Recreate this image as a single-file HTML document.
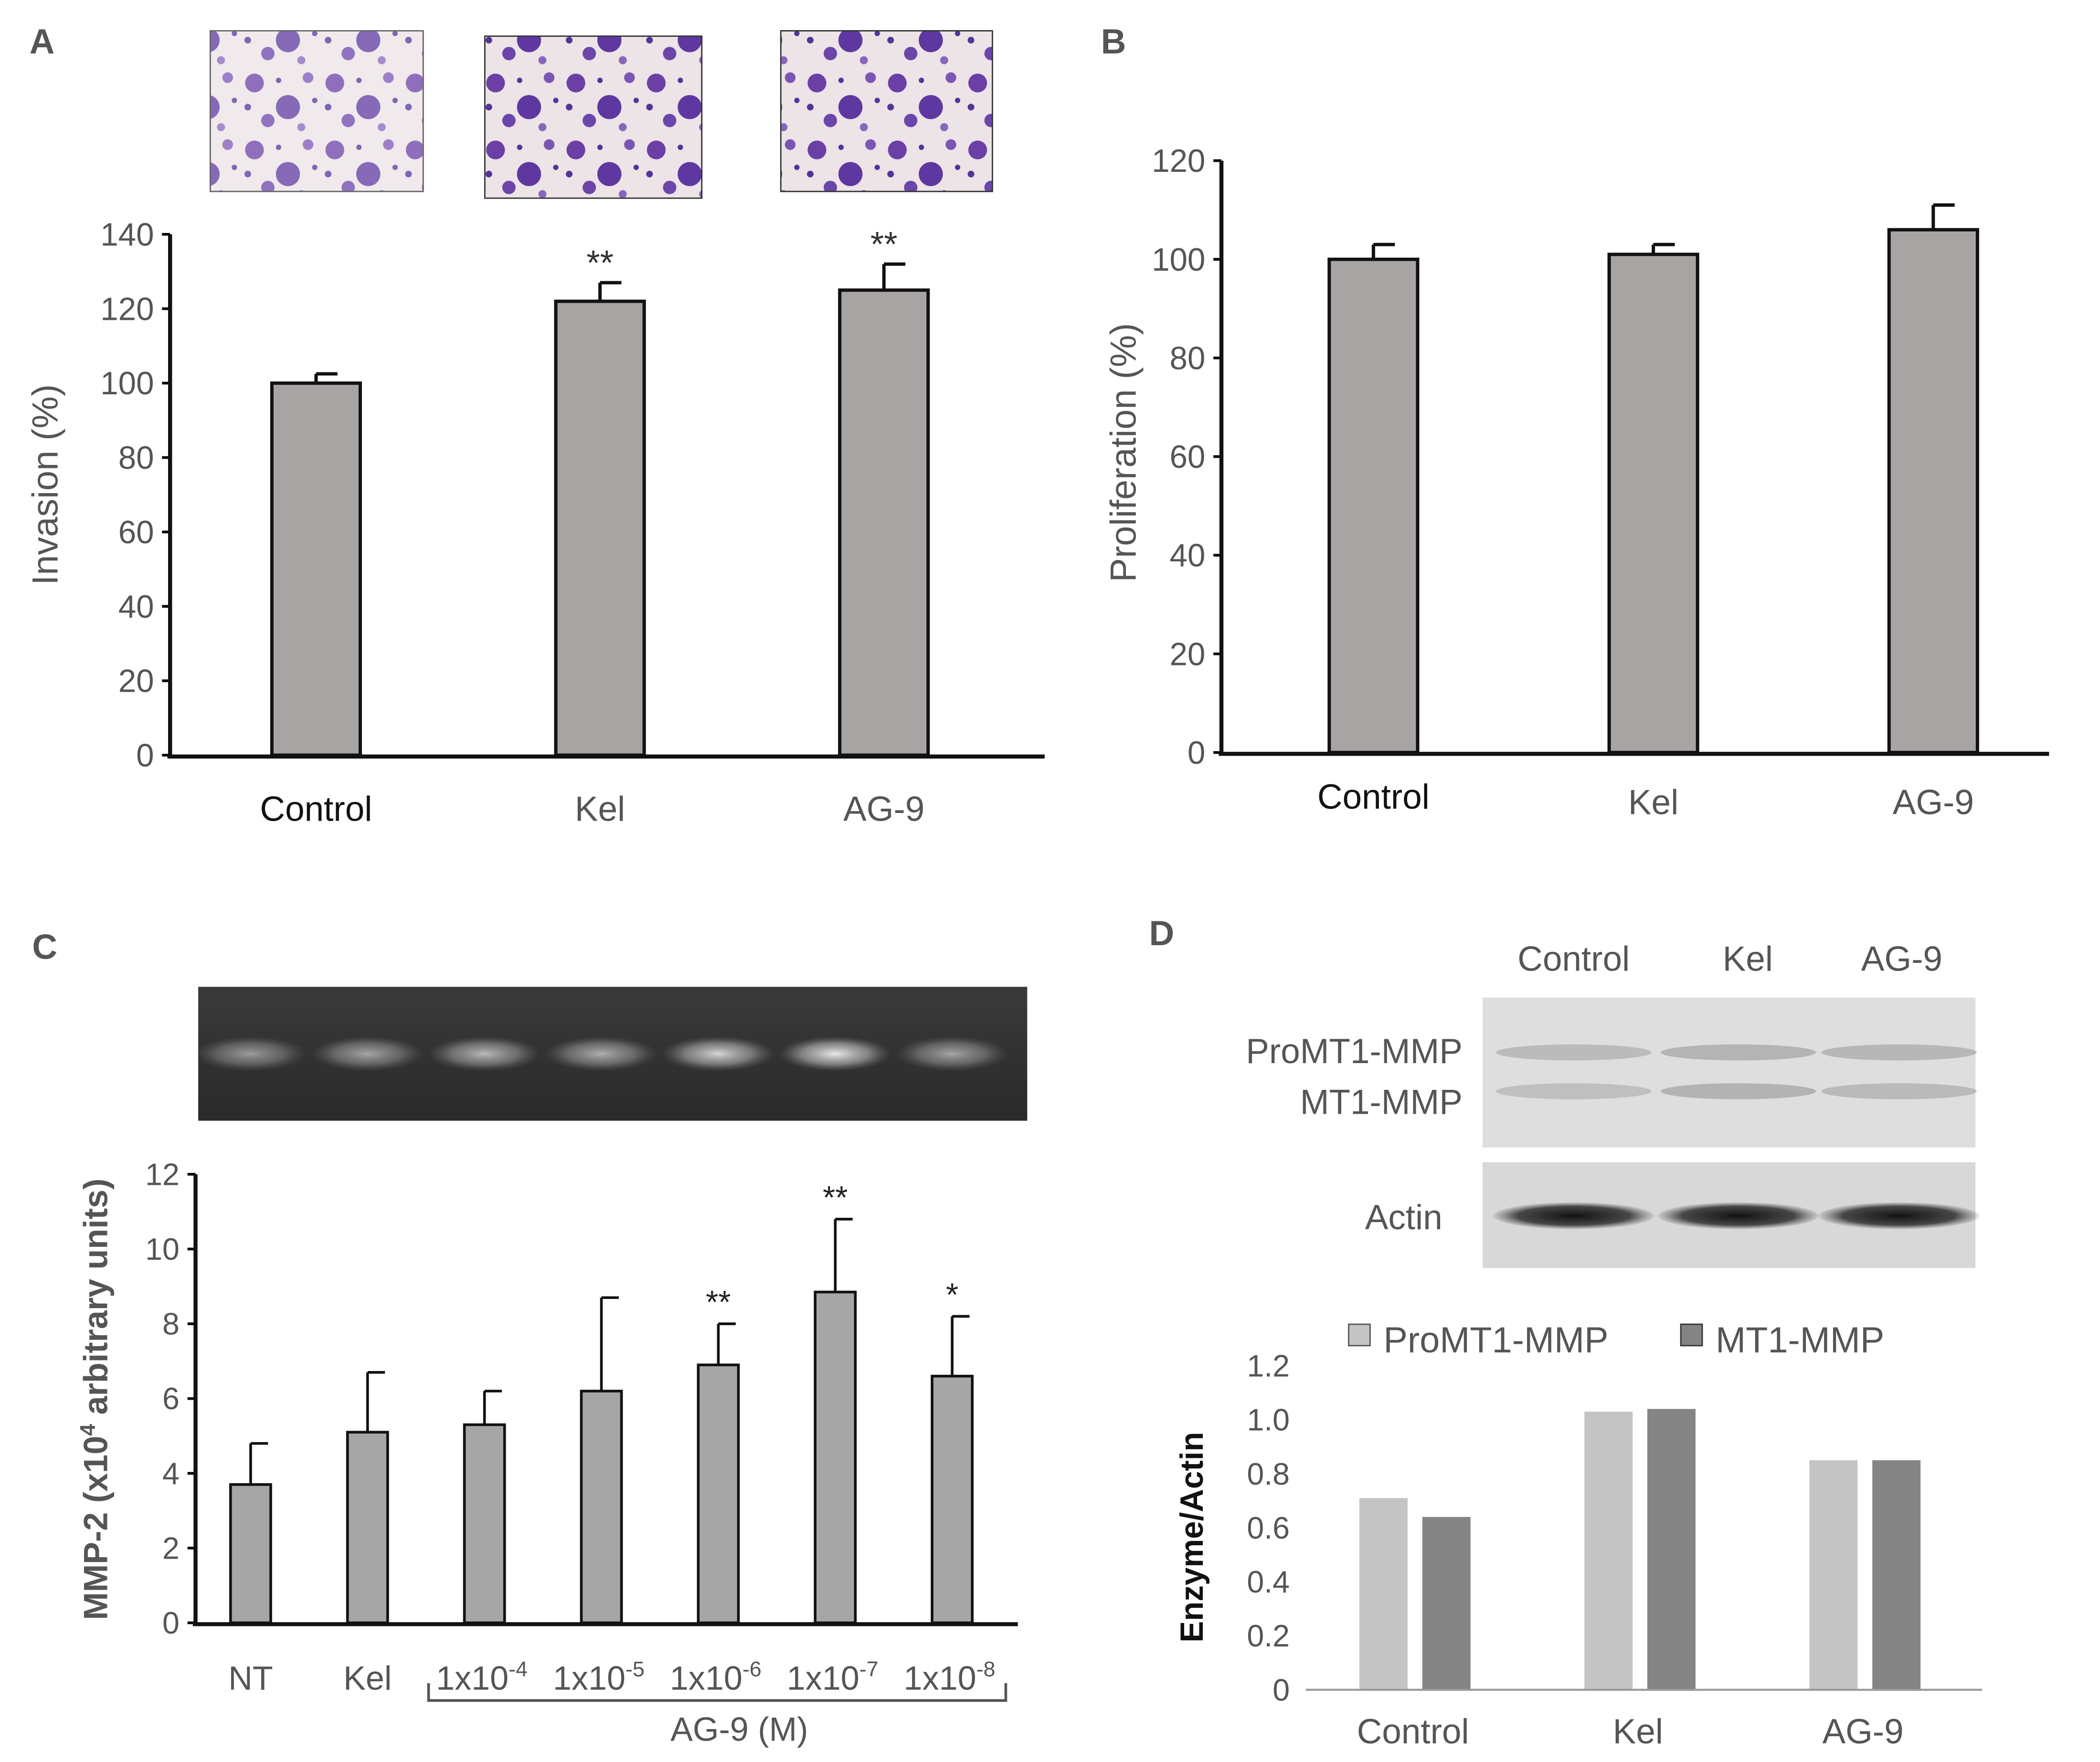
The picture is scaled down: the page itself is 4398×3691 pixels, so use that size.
<!DOCTYPE html>
<html><head><meta charset="utf-8"><style>
html,body{margin:0;padding:0;background:#fff}
svg{display:block}
text{font-family:"Liberation Sans",sans-serif}
</style></head><body>
<svg id="fig" width="4398" height="3691" viewBox="0 0 1568 1315" preserveAspectRatio="xMinYMin meet" xmlns="http://www.w3.org/2000/svg">
<defs>
<pattern id="cells" width="60" height="50" patternUnits="userSpaceOnUse">
<rect width="60" height="50" fill="#ece4e6"/>
<circle cx="10" cy="12" r="7" fill="#6a3fa6"/><circle cx="35" cy="30" r="9" fill="#5e37a0"/>
<circle cx="50" cy="8" r="4" fill="#7b55b4"/><circle cx="20" cy="40" r="5" fill="#6b45aa"/>
<circle cx="45" cy="45" r="3" fill="#8866bb"/><circle cx="28" cy="10" r="2" fill="#553399"/>
<circle cx="5" cy="30" r="2.5" fill="#553399"/><circle cx="55" cy="25" r="2" fill="#553399"/>
</pattern>
<linearGradient id="gel" x1="0" y1="0" x2="0" y2="1"><stop offset="0" stop-color="#3a3a3a"/><stop offset="1" stop-color="#2a2a2a"/></linearGradient>
<radialGradient id="band"><stop offset="0" stop-color="#f4f4f4"/><stop offset="0.6" stop-color="#aaa" stop-opacity="0.7"/><stop offset="1" stop-color="#777" stop-opacity="0"/></radialGradient>
<radialGradient id="wb"><stop offset="0" stop-color="#111"/><stop offset="0.7" stop-color="#222" stop-opacity="0.8"/><stop offset="1" stop-color="#444" stop-opacity="0.1"/></radialGradient>
</defs>
<g id="letters" fill="#555" font-weight="bold" font-size="26">
<text x="22" y="40">A</text>
<text x="822" y="40">B</text>
<text x="24" y="716">C</text>
<text x="858" y="706">D</text>
</g>
<g>
<rect x="157" y="23" width="159" height="120" fill="url(#cells)" opacity="0.75" stroke="#333"/>
<rect x="362" y="27" width="162" height="121" fill="url(#cells)" stroke="#333"/>
<rect x="583" y="23" width="158" height="120" fill="url(#cells)" stroke="#333"/>
</g>
<g>
<rect x="148" y="737" width="619" height="100" fill="url(#gel)"/>
</g>
<g id="gelbands"></g>
<g>
<rect x="1107" y="745" width="368" height="112" fill="#dedede"/>
<rect x="1107" y="868" width="368" height="79" fill="#d8d8d8"/>
</g>
<g id="wbbands"></g>
<g fill="#555" font-size="26">
<text x="1175" y="725" text-anchor="middle">Control</text>
<text x="1305" y="725" text-anchor="middle">Kel</text>
<text x="1420" y="725" text-anchor="middle">AG-9</text>
<text x="1092" y="794" text-anchor="end">ProMT1-MMP</text>
<text x="1092" y="832" text-anchor="end">MT1-MMP</text>
<text x="1077" y="918" text-anchor="end">Actin</text>
</g>
<g id="charts"></g>
</svg>
<script>
const NS="http://www.w3.org/2000/svg";
const root=document.getElementById('charts');
function el(tag,attrs,parent,txt){const e=document.createElementNS(NS,tag);for(const k in attrs)e.setAttribute(k,attrs[k]);if(txt!==undefined)e.textContent=txt;(parent||root).appendChild(e);return e;}

// Panel A data
const aCats=["Control","Kel","AG-9"];
const aVals=[100,122,125];
const aErr=[2.5,5,7];
const aStars=["","**","**"];
const aTicks=[0,20,40,60,80,100,120,140];
// Panel B data
const bCats=["Control","Kel","AG-9"];
const bVals=[100,101,106];
const bErr=[3,2,5];
const bTicks=[0,20,40,60,80,100,120];
// Panel C data
const cCats=["NT","Kel","1x10-4","1x10-5","1x10-6","1x10-7","1x10-8"];
const cVals=[3.7,5.1,5.3,6.2,6.9,8.85,6.6];
const cErr=[1.1,1.6,0.9,2.5,1.1,1.95,1.6];
const cStars=["","","","","**","**","*"];
const cTicks=[0,2,4,6,8,10,12];
const cBand=[0.55,0.6,0.7,0.65,0.85,0.95,0.6];
// Panel D data
const dCats=["Control","Kel","AG-9"];
const dPro=[0.71,1.03,0.85];
const dMt1=[0.64,1.04,0.85];
const dTicks=[0,0.2,0.4,0.6,0.8,1.0,1.2];

function chart(o){
  const g=el('g',{});
  
  
  const y=v=>o.y0-(v-o.min)/(o.max-o.min)*(o.y0-o.y1);
  const x=i=>o.xs+(i+0.5)*o.step;
  o.ticks.forEach(t=>{
    const tl=el('text',{x:o.ax-12,y:y(t)+o.fs*0.35,'text-anchor':'end','font-size':o.fs,fill:'#555'},g,o.fmt?o.fmt(t):t);
    
    
    if(o.tickmarks){el('line',{x1:o.ax-6,x2:o.ax,y1:y(t),y2:y(t),stroke:'#000','stroke-width':2},g);}
  });
  return {g,y,x};
}

// A
(function(){
  const o={name:'invasion-chart',y0:564,y1:175,min:0,max:140,ticks:aTicks,ax:127,xs:130,step:212,fs:24,tickmarks:true};
  const {g,y,x}=chart(o);
  aVals.forEach((v,i)=>{
    const cx=x(i);
    const r=el('rect',{x:cx-33,y:y(v),width:66,height:y(0)-y(v),fill:'#a8a4a4',stroke:'#111','stroke-width':2.5},g);
    
    
    el('line',{x1:cx,x2:cx,y1:y(v),y2:y(v+aErr[i]),stroke:'#111','stroke-width':2.5},g);
    el('line',{x1:cx,x2:cx+16,y1:y(v+aErr[i]),y2:y(v+aErr[i]),stroke:'#111','stroke-width':2.5},g);
    if(aStars[i]){const s=el('text',{x:cx,y:y(v+aErr[i])-6,'text-anchor':'middle','font-size':26,fill:'#333'},g,aStars[i]);}
    const l=el('text',{x:cx,y:613,'text-anchor':'middle','font-size':26,fill:i==0?'#111':'#555'},g,aCats[i]);
    
    
  });
  el('line',{x1:127,x2:127,y1:175,y2:565,stroke:'#111','stroke-width':3},g);
  el('line',{x1:125,x2:780,y1:565,y2:565,stroke:'#111','stroke-width':3},g);
  const t=el('text',{transform:'translate(43,362) rotate(-90)','text-anchor':'middle','font-size':27,fill:'#555'},g,'Invasion (%)');
  
  
})();

// B
(function(){
  const o={name:'proliferation-chart',y0:562,y1:120,min:0,max:120,ticks:bTicks,ax:912,xs:921,step:209,fs:24,tickmarks:true};
  const {g,y,x}=chart(o);
  bVals.forEach((v,i)=>{
    const cx=x(i);
    const r=el('rect',{x:cx-33,y:y(v),width:66,height:y(0)-y(v),fill:'#a8a4a4',stroke:'#111','stroke-width':2.5},g);
    
    
    el('line',{x1:cx,x2:cx,y1:y(v),y2:y(v+bErr[i]),stroke:'#111','stroke-width':2.5},g);
    el('line',{x1:cx,x2:cx+16,y1:y(v+bErr[i]),y2:y(v+bErr[i]),stroke:'#111','stroke-width':2.5},g);
    const l=el('text',{x:cx,y:608-(i==0?4:0),'text-anchor':'middle','font-size':26,fill:i==0?'#111':'#555'},g,bCats[i]);
    
    
  });
  el('line',{x1:912,x2:912,y1:120,y2:563,stroke:'#111','stroke-width':3},g);
  el('line',{x1:910,x2:1530,y1:563,y2:563,stroke:'#111','stroke-width':3},g);
  const t=el('text',{transform:'translate(848,338) rotate(-90)','text-anchor':'middle','font-size':27,fill:'#555'},g,'Proliferation (%)');
  
  
})();

// C gel bands
(function(){
  const gb=document.getElementById('gelbands');
  cBand.forEach((b,i)=>{
    const cx=187+i*87.3;
    const e=el('ellipse',{cx:cx,cy:787,rx:42,ry:13,fill:'url(#band)',opacity:b},gb);
    
    
  });
})();

// C
(function(){
  const o={name:'mmp2-chart',y0:1212,y1:877,min:0,max:12,ticks:cTicks,ax:146,xs:143.5,step:87.3,fs:23,tickmarks:true};
  const {g,y,x}=chart(o);
  cVals.forEach((v,i)=>{
    const cx=x(i);
    const r=el('rect',{x:cx-15,y:y(v),width:30,height:y(0)-y(v),fill:'#a6a6a6',stroke:'#111','stroke-width':2},g);
    
    
    el('line',{x1:cx,x2:cx,y1:y(v),y2:y(v+cErr[i]),stroke:'#111','stroke-width':2},g);
    el('line',{x1:cx,x2:cx+13,y1:y(v+cErr[i]),y2:y(v+cErr[i]),stroke:'#111','stroke-width':2},g);
    if(cStars[i]){const s=el('text',{x:cx,y:y(v+cErr[i])-8,'text-anchor':'middle','font-size':24,fill:'#222'},g,cStars[i]);}
    const lab=cCats[i];
    let l;
    if(lab.indexOf('1x10')==0){
      l=el('text',{x:cx-2,y:1262,'text-anchor':'middle','font-size':25,fill:'#555'},g);
      el('tspan',{},l,'1x10');
      el('tspan',{dy:-10,'font-size':16},l,lab.slice(4));
    } else l=el('text',{x:cx,y:1262,'text-anchor':'middle','font-size':25,fill:'#555'},g,lab);
    
    
  });
  el('line',{x1:146,x2:146,y1:877,y2:1213,stroke:'#111','stroke-width':3},g);
  el('line',{x1:144,x2:760,y1:1213,y2:1213,stroke:'#111','stroke-width':3},g);
  el('path',{d:'M320 1257 V1270 H751 V1257',fill:'none',stroke:'#555','stroke-width':2},g);
  const a=el('text',{x:552,y:1300,'text-anchor':'middle','font-size':25,fill:'#555'},g,'AG-9 (M)');
  
  
  const t=el('text',{transform:'translate(80,1045) rotate(-90)','text-anchor':'middle','font-size':25,'font-weight':'bold',fill:'#555'},g);
  el('tspan',{},t,'MMP-2 (x10');
  el('tspan',{dy:-9,'font-size':16},t,'4');
  el('tspan',{dy:9},t,' arbitrary units)');
  
  
})();

// D blot bands
(function(){
  const gb=document.getElementById('wbbands');
  const centers=[1175,1298,1418];
  dCats.forEach((c,i)=>{
    const a=el('ellipse',{cx:centers[i],cy:786,rx:58,ry:6,fill:'#999',opacity:0.3+dPro[i]*0.3},gb);
    
    
    const b=el('ellipse',{cx:centers[i],cy:815,rx:58,ry:6,fill:'#999',opacity:0.15+dMt1[i]*0.45},gb);
    
    
    const k=el('ellipse',{cx:centers[i],cy:908,rx:60,ry:10,fill:'url(#wb)'},gb);
    
    
  });
})();

// D
(function(){
  const o={name:'enzyme-actin-chart',y0:1262,y1:1020,min:0,max:1.2,ticks:dTicks,ax:975,xs:971,step:168,fs:23,tickmarks:false,fmt:t=>t==0?'0':t.toFixed(1)};
  const {g,y,x}=chart(o);
  dCats.forEach((c,i)=>{
    const cx=x(i);
    const p=el('rect',{x:cx-40,y:y(dPro[i]),width:36,height:y(0)-y(dPro[i]),fill:'#c4c4c4'},g);
    
    
    const m=el('rect',{x:cx+7,y:y(dMt1[i]),width:36,height:y(0)-y(dMt1[i]),fill:'#848484'},g);
    
    
    const l=el('text',{x:cx,y:1302,'text-anchor':'middle','font-size':26,fill:'#555'},g,c);
    
    
  });
  el('line',{x1:975,x2:1480,y1:1262,y2:1262,stroke:'#999','stroke-width':1.5},g);
  const t=el('text',{transform:'translate(898,1148) rotate(-90)','text-anchor':'middle','font-size':24,'font-weight':'bold',fill:'#111'},g,'Enzyme/Actin');
  
  
  const l1=el('g',{},g);
  
  
  el('rect',{x:1007,y:989,width:16,height:16,fill:'#c4c4c4',stroke:'#555'},l1);
  el('text',{x:1033,y:1010,'font-size':27,fill:'#555'},l1,'ProMT1-MMP');
  const l2=el('g',{},g);
  
  
  el('rect',{x:1255,y:989,width:16,height:16,fill:'#848484',stroke:'#333'},l2);
  el('text',{x:1281,y:1010,'font-size':27,fill:'#555'},l2,'MT1-MMP');
})();
</script>
</body></html>
